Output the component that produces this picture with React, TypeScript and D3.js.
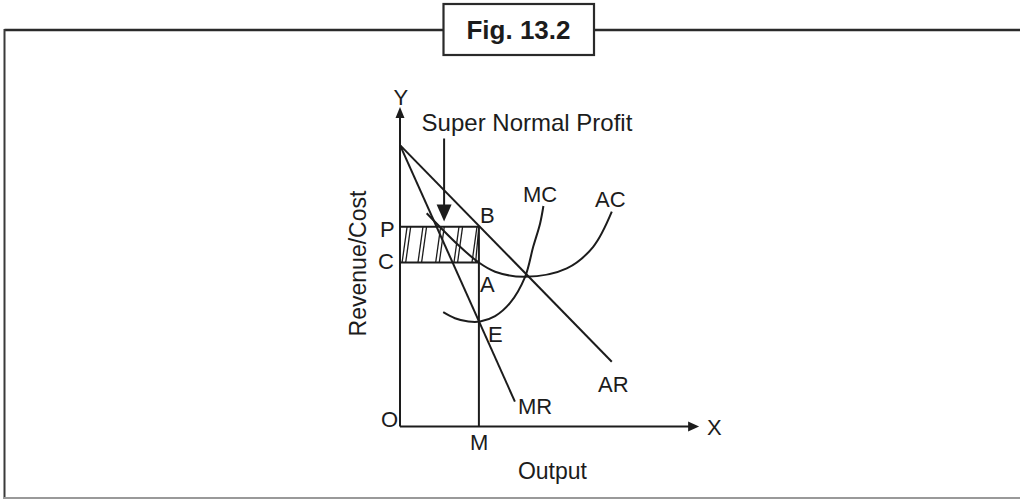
import React from "react";
import * as d3 from "d3";

// ---- data (abstract units: output on x, revenue/cost on y) ----
const axisMax = { x: 99.7, y: 106.5 };
const AR: [number, number][] = [[0, 93.8], [70.6, 21.6]];
const MR: [number, number][] = [[0, 93.8], [38.3, 8.3]];
const AC: [number, number][] = [
  [8.9, 71.1], [19.4, 60.5], [26.2, 54.7], [31.7, 51.6], [41.7, 49.9],
  [55.6, 52.7], [64.4, 59.9], [70.6, 71.6],
];
const MC: [number, number][] = [
  [14.4, 38.1], [18.3, 36.1], [22.8, 35.0], [26.7, 35.0], [31.7, 36.8],
  [36.7, 41.2], [41.7, 49.9], [44.4, 59.9], [46.7, 67.7], [47.8, 73.5],
];
const Mx = 26.3;
const Py = 66.6;
const Cy = 54.7;
const hatchX = [0.7, 6.0, 11.9, 18.0, 24.0];
const profitArrow = { x: 14.7, yTop: 96.0, yTip: 68.3 };

const labels = [
  { t: "Y", x: 0.3, y: 107.2, anchor: "middle", size: 22 },
  { t: "MC", x: 41, y: 74.9, anchor: "start", size: 22 },
  { t: "AC", x: 65, y: 73.1, anchor: "start", size: 22 },
  { t: "B", x: 26.7, y: 67.8, anchor: "start", size: 22 },
  { t: "P", x: -6.7, y: 63.2, anchor: "start", size: 22 },
  { t: "C", x: -7.3, y: 52.5, anchor: "start", size: 22 },
  { t: "A", x: 26.7, y: 44.8, anchor: "start", size: 22 },
  { t: "E", x: 29.3, y: 28.2, anchor: "start", size: 22 },
  { t: "AR", x: 66, y: 11.5, anchor: "start", size: 22 },
  { t: "MR", x: 39.3, y: 4.2, anchor: "start", size: 22 },
  { t: "O", x: -6.3, y: -0.2, anchor: "start", size: 22 },
  { t: "M", x: 23.3, y: -7.8, anchor: "start", size: 22 },
  { t: "X", x: 102.3, y: -2.8, anchor: "start", size: 22 },
  { t: "Output", x: 39.3, y: -17.5, anchor: "start", size: 23 },
  { t: "Super Normal Profit", x: 7.2, y: 98.6, anchor: "start", size: 24 },
];

export default function App() {
  const W = 1020, H = 499;
  const x = d3.scaleLinear().domain([0, 100]).range([400, 700]);
  const y = d3.scaleLinear().domain([0, 100]).range([426.5, 126.5]);
  const line = d3.line<[number, number]>().x(d => x(d[0])).y(d => y(d[1]));
  const curve = d3.line<[number, number]>().x(d => x(d[0])).y(d => y(d[1])).curve(d3.curveCatmullRom.alpha(0.5));
  const ink = "#1c1c1c";
  const font = "'Liberation Sans', Arial, Helvetica, sans-serif";
  const sw = 2;

  const hatchH = y(Cy) - y(Py);
  return (
    <svg width={W} height={H} style={{ position: "absolute", left: 0, top: 0, background: "#fff" }} fontFamily={font}>
      {/* frame */}
      <line x1={4.5} y1={30} x2={443} y2={30} stroke="#2a2a2a" strokeWidth={2.5} />
      <line x1={594.5} y1={30} x2={1020} y2={30} stroke="#2a2a2a" strokeWidth={2.5} />
      <line x1={4.5} y1={29} x2={4.5} y2={499} stroke="#3a3a3a" strokeWidth={2} />
      <line x1={4} y1={498} x2={1020} y2={498} stroke="#999" strokeWidth={2} />
      <rect x={443.5} y={4} width={150.5} height={51} fill="#fff" stroke="#2a2a2a" strokeWidth={2.2} />
      <text x={518.5} y={38.5} textAnchor="middle" fontWeight="bold" fontSize={26} fill={ink}>Fig. 13.2</text>

      {/* hatching */}
      {hatchX.map((h, i) => (
        <g key={i}>
          {[0, 1.2].map((o, j) => (
            <line key={j} x1={x(h + o)} y1={y(Cy)} x2={Math.min(x(h + o) + 5, x(Mx))} y2={y(Py)}
              stroke={ink} strokeWidth={1.3} />
          ))}
        </g>
      ))}
      <line x1={x(0)} y1={y(Py)} x2={x(Mx)} y2={y(Py)} stroke={ink} strokeWidth={sw} />
      <line x1={x(0)} y1={y(Cy)} x2={x(Mx)} y2={y(Cy)} stroke={ink} strokeWidth={sw} />
      <line x1={x(Mx)} y1={y(0)} x2={x(Mx)} y2={y(Py)} stroke={ink} strokeWidth={sw} />

      {/* axes */}
      <line x1={x(0)} y1={y(0)} x2={x(0)} y2={y(axisMax.y) + 8} stroke={ink} strokeWidth={sw} />
      <path d={`M${x(0)},${y(axisMax.y)} L${x(0) - 4.5},${y(axisMax.y) + 11} L${x(0) + 4.5},${y(axisMax.y) + 11} Z`} fill={ink} />
      <line x1={x(0)} y1={y(0)} x2={x(axisMax.x) - 8} y2={y(0)} stroke={ink} strokeWidth={sw} />
      <path d={`M${x(axisMax.x)},${y(0)} L${x(axisMax.x) - 11},${y(0) - 5} L${x(axisMax.x) - 11},${y(0) + 5} Z`} fill={ink} />

      {/* curves */}
      <path d={line(AR) || ""} fill="none" stroke={ink} strokeWidth={sw} />
      <path d={line(MR) || ""} fill="none" stroke={ink} strokeWidth={sw} />
      <path d={curve(AC) || ""} fill="none" stroke={ink} strokeWidth={sw} />
      <path d={curve(MC) || ""} fill="none" stroke={ink} strokeWidth={sw} />

      {/* super normal profit arrow */}
      <line x1={x(profitArrow.x)} y1={y(profitArrow.yTop)} x2={x(profitArrow.x)} y2={y(profitArrow.yTip) - 14} stroke={ink} strokeWidth={sw} />
      <path d={`M${x(profitArrow.x)},${y(profitArrow.yTip)} L${x(profitArrow.x) - 7.5},${y(profitArrow.yTip) - 17} L${x(profitArrow.x) + 7.5},${y(profitArrow.yTip) - 17} Z`} fill={ink} />

      {/* labels */}
      {labels.map((l, i) => (
        <text key={i} x={x(l.x)} y={y(l.y)} textAnchor={l.anchor as any} fontSize={l.size} fill={ink}>{l.t}</text>
      ))}
      <text transform={`translate(366,263.5) rotate(-90)`} textAnchor="middle" fontSize={23} fill={ink}>Revenue/Cost</text>
    </svg>
  );
}
